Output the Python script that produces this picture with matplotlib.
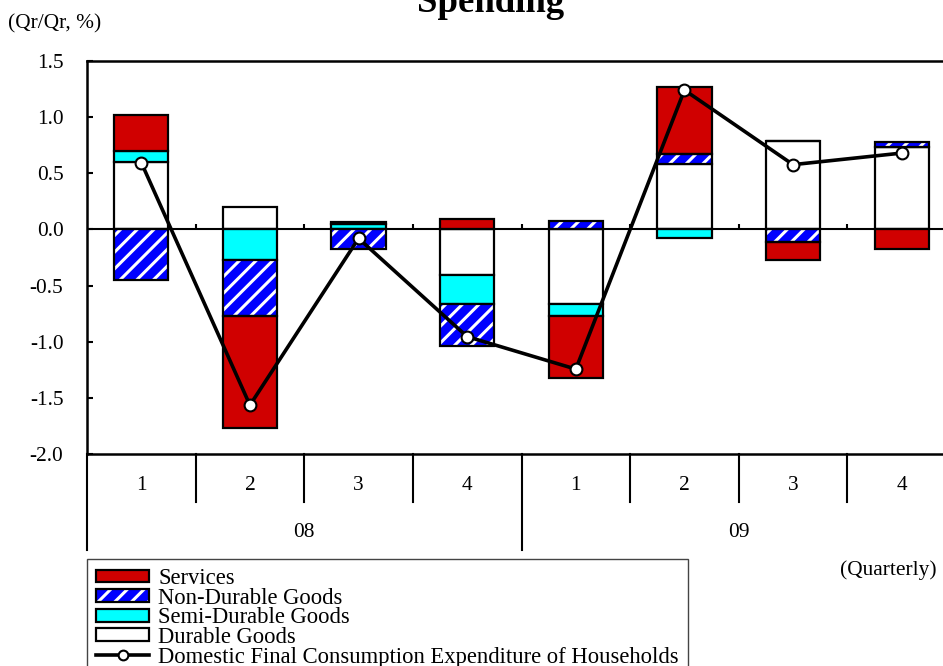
import matplotlib
matplotlib.use("Agg")
import matplotlib.pyplot as plt
import numpy as np
from matplotlib.patches import Patch
from matplotlib.lines import Line2D
from matplotlib.legend_handler import HandlerTuple
import matplotlib.transforms as mtransforms

plt.rcParams['font.family'] = ['Liberation Serif', 'DejaVu Serif']
plt.rcParams['axes.unicode_minus'] = False
plt.rcParams['hatch.linewidth'] = 2.2

# Contributions to quarter-on-quarter change (percentage points)
quarters = ['1', '2', '3', '4', '1', '2', '3', '4']
years = ['08', '09']
services = [0.32, -1.00, 0.02, 0.09, -0.557, 0.595, -0.161, -0.17]
non_durable = [-0.449, -0.50, -0.17, -0.372, 0.071, 0.087, -0.11, 0.05]
semi_durable = [0.095, -0.271, 0.05, -0.253, -0.104, -0.074, 0.0, 0.0]
durable = [0.601, 0.196, 0.0, -0.41, -0.664, 0.586, 0.786, 0.73]
total = [0.595, -1.565, -0.08, -0.955, -1.244, 1.241, 0.577, 0.68]

FS = 15.4
LEG_FS = 16.3
RED = '#D00000'
BLUE = '#0000FF'
CYAN = '#00FFFF'

fig = plt.figure(figsize=(9.43, 6.66), dpi=100)
ax = fig.add_axes([87 / 943, 1 - 454 / 666, 869 / 943, 393 / 666])

x = np.arange(len(quarters))
width = 0.5
pos_base = np.zeros(len(x))
neg_base = np.zeros(len(x))

def stack(values):
    v = np.asarray(values, dtype=float)
    bottom = np.where(v >= 0, pos_base, neg_base)
    pos_base[:] += np.where(v >= 0, v, 0)
    neg_base[:] += np.where(v < 0, v, 0)
    return v, bottom

v, b = stack(durable)
ax.bar(x, v, width, bottom=b, color='white', edgecolor='black', linewidth=1.6, zorder=2)
v, b = stack(semi_durable)
ax.bar(x, v, width, bottom=b, color=CYAN, edgecolor='black', linewidth=1.6, zorder=2)
v, b = stack(non_durable)
ax.bar(x, v, width, bottom=b, color=BLUE, edgecolor='white', hatch='//', linewidth=0, zorder=2)
ax.bar(x, v, width, bottom=b, fill=False, edgecolor='black', linewidth=1.6, zorder=2.1)
v, b = stack(services)
ax.bar(x, v, width, bottom=b, color=RED, edgecolor='black', linewidth=1.6, zorder=2)

ax.plot(x, total, color='black', linewidth=2.6, marker='o', markersize=8.5,
        markerfacecolor='white', markeredgecolor='black', markeredgewidth=1.5, zorder=4)

# category axis crossing at zero
ax.axhline(0, color='black', linewidth=1.5, zorder=3)
bounds = np.arange(len(x) + 1) - 0.5
ax.vlines(bounds[1:-1], 0, 0.045, color='black', linewidth=1.5, zorder=3)

ax.set_xlim(-0.5, len(x) - 0.5)
ax.set_ylim(-2.0, 1.5)
ax.set_yticks(np.arange(-2.0, 1.51, 0.5))
ax.yaxis.set_major_formatter(matplotlib.ticker.FormatStrFormatter('%.1f'))
ax.tick_params(axis='y', direction='in', length=4, width=1.5, labelsize=FS, pad=17)
ax.set_xticks([])
for s in ['top', 'left', 'bottom']:
    ax.spines[s].set_linewidth(1.8)
ax.spines['right'].set_visible(False)

# two-level category labels below the plot
trans = mtransforms.blended_transform_factory(ax.transData, ax.transAxes)
for bnd in bounds:
    is_year = (bnd + 0.5) % 4 == 0
    ax.plot([bnd, bnd], [0, -0.244 if is_year else -0.122], transform=trans,
            color='black', linewidth=1.5, clip_on=False)
for i, q in enumerate(quarters):
    ax.text(i, -0.079, q, transform=trans, ha='center', va='center', fontsize=FS)
for j, yr in enumerate(years):
    ax.text(j * 4 + 1.5, -0.201, yr, transform=trans, ha='center', va='center', fontsize=FS)

fig.text(8 / 943, 1 - 24 / 666, '(Qr/Qr, %)', ha='left', va='center', fontsize=FS)
fig.text(491 / 943, 1 - 12 / 666, 'Spending', ha='center', va='baseline',
         fontsize=26.5, fontweight='bold')
fig.text(937 / 943, 1 - 570 / 666, '(Quarterly)', ha='right', va='center', fontsize=FS)

h_serv = Patch(facecolor=RED, edgecolor='black', linewidth=1.6)
h_nd = (Patch(facecolor=BLUE, edgecolor='white', hatch='//', linewidth=0),
        Patch(fill=False, edgecolor='black', linewidth=1.6))
h_semi = Patch(facecolor=CYAN, edgecolor='black', linewidth=1.6)
h_dur = Patch(facecolor='white', edgecolor='black', linewidth=1.6)
h_tot = Line2D([], [], color='black', linewidth=2.6, marker='o', markersize=7,
               markerfacecolor='white', markeredgecolor='black', markeredgewidth=1.5)
leg = fig.legend([h_serv, h_nd, h_semi, h_dur, h_tot],
                 ['Services', 'Non-Durable Goods', 'Semi-Durable Goods', 'Durable Goods',
                  'Domestic Final Consumption Expenditure of Households'],
                 handler_map={tuple: HandlerTuple(ndivide=1, pad=0)},
                 loc='upper left', bbox_to_anchor=(87 / 943, 1 - 559 / 666),
                 fontsize=LEG_FS, frameon=True, fancybox=False, framealpha=1,
                 edgecolor='#444444', borderpad=0.4, labelspacing=-0.06,
                 handlelength=2.35, handleheight=0.5, handletextpad=0.4,
                 borderaxespad=0)
leg.get_frame().set_linewidth(1.0)

fig.savefig('out.png', dpi=100)
